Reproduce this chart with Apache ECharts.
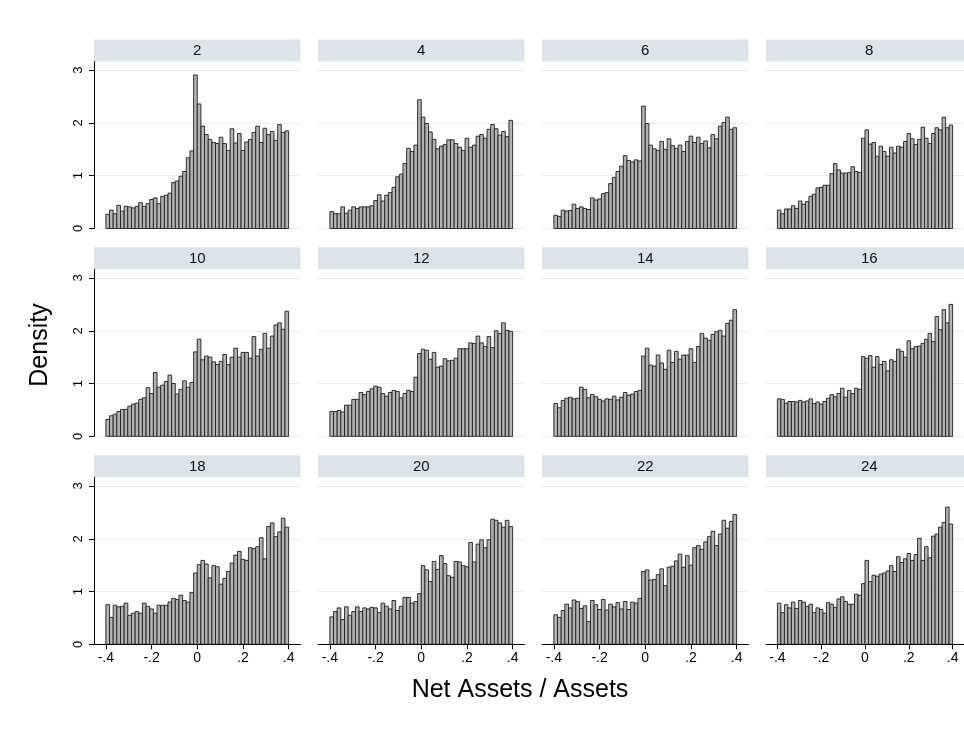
<!DOCTYPE html>
<html><head><meta charset="utf-8">
<script src="https://cdn.jsdelivr.net/npm/echarts@6/dist/echarts.min.js"></script>
<style>html,body{margin:0;padding:0;background:#fff}#c{width:964px;height:734px}</style>
</head><body><div id="c"></div>
<script>
const panelTitles = ['2','4','6','8','10','12','14','16','18','20','22','24'];
const BIN_START = -0.4, BIN_WIDTH = 0.016;
const d2 = [0.27,0.35,0.28,0.44,0.33,0.42,0.41,0.39,0.42,0.49,0.42,0.47,0.55,0.58,0.47,0.61,0.63,0.67,0.87,0.90,0.99,1.08,1.34,1.47,2.91,2.36,1.94,1.78,1.69,1.63,1.61,1.73,1.61,1.48,1.89,1.62,1.80,1.48,1.64,1.69,1.82,1.94,1.63,1.90,1.78,1.84,1.67,1.97,1.82,1.85];
const d4 = [0.32,0.28,0.28,0.41,0.29,0.35,0.41,0.38,0.41,0.41,0.41,0.43,0.53,0.64,0.52,0.63,0.68,0.78,0.98,1.03,1.23,1.52,1.46,1.58,2.44,2.11,1.99,1.83,1.69,1.51,1.56,1.59,1.68,1.68,1.61,1.54,1.48,1.71,1.54,1.58,1.75,1.78,1.71,1.88,1.97,1.89,1.77,1.84,1.74,2.05];
const d6 = [0.25,0.23,0.35,0.33,0.34,0.46,0.38,0.41,0.38,0.36,0.58,0.54,0.56,0.66,0.68,0.85,0.97,1.08,1.18,1.38,1.29,1.26,1.30,1.28,2.32,1.99,1.58,1.51,1.48,1.65,1.50,1.70,1.57,1.52,1.58,1.46,1.65,1.75,1.63,1.73,1.61,1.66,1.53,1.78,1.70,1.94,2.01,2.11,1.88,1.91];
const d8 = [0.35,0.28,0.37,0.37,0.43,0.38,0.52,0.46,0.51,0.61,0.65,0.77,0.78,0.82,0.82,1.04,1.23,1.11,1.05,1.05,1.06,1.17,1.08,1.06,1.71,1.87,1.60,1.63,1.37,1.56,1.46,1.37,1.54,1.43,1.56,1.54,1.65,1.80,1.70,1.59,1.69,1.92,1.71,1.61,1.80,1.91,1.87,2.11,1.91,1.96];
const d10 = [0.32,0.39,0.42,0.47,0.51,0.51,0.57,0.61,0.63,0.70,0.73,0.92,0.81,1.21,0.93,0.97,1.04,1.16,1.00,0.80,0.89,1.05,0.93,1.02,1.60,1.84,1.45,1.52,1.50,1.41,1.36,1.42,1.55,1.36,1.50,1.67,1.50,1.59,1.59,1.48,1.89,1.52,1.65,1.95,1.67,1.90,2.11,2.15,2.03,2.37];
const d12 = [0.47,0.47,0.49,0.46,0.59,0.59,0.70,0.70,0.83,0.79,0.85,0.90,0.95,0.93,0.81,0.76,0.83,0.87,0.85,0.73,0.81,0.87,0.85,1.12,1.57,1.65,1.63,1.46,1.59,1.31,1.33,1.47,1.43,1.44,1.48,1.66,1.66,1.66,1.77,1.76,1.90,1.77,1.70,1.89,1.68,2.00,1.95,2.15,2.01,1.99];
const d14 = [0.62,0.54,0.68,0.72,0.74,0.71,0.72,0.93,0.89,0.73,0.79,0.75,0.70,0.67,0.71,0.70,0.76,0.69,0.74,0.83,0.78,0.80,0.85,0.87,1.52,1.67,1.35,1.33,1.54,1.39,1.27,1.63,1.40,1.61,1.46,1.54,1.54,1.66,1.40,1.70,1.95,1.86,1.82,1.93,1.98,2.01,1.90,2.14,2.20,2.40];
const d16 = [0.71,0.70,0.63,0.66,0.66,0.65,0.68,0.65,0.67,0.71,0.62,0.65,0.61,0.66,0.72,0.79,0.75,0.81,0.91,0.74,0.87,0.81,0.91,0.89,1.51,1.48,1.53,1.31,1.51,1.36,1.42,1.24,1.45,1.42,1.65,1.61,1.50,1.81,1.66,1.70,1.71,1.76,1.84,1.95,1.80,2.27,2.02,2.40,2.15,2.50];
const d18 = [0.75,0.51,0.74,0.71,0.72,0.78,0.55,0.59,0.62,0.59,0.78,0.72,0.67,0.59,0.74,0.74,0.74,0.80,0.87,0.85,0.93,0.83,0.80,0.98,1.35,1.51,1.59,1.52,1.26,1.49,1.47,1.14,1.25,1.38,1.54,1.69,1.76,1.61,1.59,1.83,1.81,1.85,2.02,1.62,2.23,2.30,2.04,2.13,2.39,2.22];
const d20 = [0.52,0.62,0.69,0.47,0.71,0.55,0.62,0.71,0.62,0.69,0.67,0.70,0.69,0.60,0.78,0.72,0.67,0.83,0.64,0.72,0.89,0.89,0.78,0.81,0.96,1.49,1.41,1.19,1.57,1.42,1.68,1.53,1.30,1.27,1.57,1.56,1.49,1.47,1.93,1.56,1.90,1.98,1.83,1.98,2.37,2.35,2.30,2.22,2.35,2.23];
const d22 = [0.56,0.51,0.64,0.76,0.69,0.84,0.81,0.68,0.73,0.43,0.83,0.75,0.66,0.85,0.65,0.76,0.71,0.79,0.67,0.81,0.66,0.80,0.78,0.87,1.38,1.41,1.22,1.23,1.32,1.43,1.11,1.46,1.48,1.58,1.71,1.46,1.68,1.50,1.83,1.87,1.80,1.94,2.04,2.14,1.87,2.09,2.35,2.20,2.33,2.46];
const d24 = [0.78,0.60,0.75,0.69,0.80,0.68,0.83,0.80,0.72,0.76,0.60,0.69,0.66,0.59,0.79,0.76,0.70,0.86,0.90,0.81,0.76,0.76,0.95,0.93,1.15,1.59,1.19,1.31,1.29,1.33,1.35,1.39,1.49,1.38,1.66,1.55,1.62,1.72,1.59,1.70,2.01,1.59,1.85,1.64,2.05,2.09,2.22,2.31,2.60,2.28];
const panelData = [d2,d4,d6,d8,d10,d12,d14,d16,d18,d20,d22,d24];
const xTickValues = [-0.4,-0.2,0,0.2,0.4];
const xTickLabels = ['-.4','-.2','0','.2','.4'];
const yTickValues = [0,1,2,3];

const FONT = "'Liberation Sans', Arial, sans-serif";
const colLefts = [94, 318, 542, 766];
const rowTops = [61.5, 269.3, 477.3];
const PW = 206.5, PH = 167, HEADER_H = 22;
const XMIN = -0.452, XMAX = 0.452, YMAX = 3.165;

const grids = [], xAxes = [], yAxes = [], series = [], graphics = [];
panelTitles.forEach((t, i) => {
  const r = Math.floor(i / 4), c = i % 4;
  const left = colLefts[c], top = rowTops[r];
  grids.push({left: left, top: top, width: PW, height: PH, containLabel: false});
  const bottomRow = r === 2, firstCol = c === 0;
  xAxes.push({
    type: 'value', gridIndex: i, min: XMIN, max: XMAX, z: 5,
    splitLine: {show: false},
    axisLine: {show: bottomRow, onZero: false, lineStyle: {color: '#000', width: 1}},
    axisTick: {show: bottomRow, customValues: xTickValues, length: 5, lineStyle: {color: '#000'}},
    axisLabel: {show: bottomRow, customValues: xTickValues, margin: 7, fontSize: 14, color: '#000', fontFamily: FONT,
      formatter: v => xTickLabels[xTickValues.findIndex(x => Math.abs(x - v) < 1e-9)] ?? ''}
  });
  yAxes.push({
    type: 'value', gridIndex: i, min: 0, max: YMAX, z: 5,
    splitLine: {show: false},
    axisLine: {show: firstCol, onZero: false, lineStyle: {color: '#000', width: 1}},
    axisTick: {show: firstCol, customValues: yTickValues, length: 5, lineStyle: {color: '#000'}},
    axisLabel: {show: firstCol, customValues: yTickValues, rotate: 90, margin: 9, fontSize: 13, color: '#000', fontFamily: FONT}
  });
  // gridlines
  series.push({
    type: 'line', xAxisIndex: i, yAxisIndex: i, data: [], z: 1, silent: true,
    markLine: {silent: true, z: 1, symbol: 'none', animation: false, label: {show: false},
      lineStyle: {color: '#e3edf0', width: 1, type: 'solid'},
      data: yTickValues.map(v => ({yAxis: v}))}
  });
  const data = panelData[i].map((v, k) => [BIN_START + k * BIN_WIDTH, BIN_START + (k + 1) * BIN_WIDTH, v]);
  series.push({
    type: 'custom', xAxisIndex: i, yAxisIndex: i, z: 3, silent: true, animation: false,
    data: data,
    renderItem: function (params, api) {
      const p0 = api.coord([api.value(0), api.value(2)]);
      const p1 = api.coord([api.value(1), 0]);
      return {type: 'rect', shape: {x: p0[0], y: p0[1], width: p1[0] - p0[0], height: p1[1] - p0[1]},
        style: {fill: '#b3b3b3', stroke: '#1e1e1e', lineWidth: 0.9}};
    }
  });
  graphics.push({type: 'rect', left: left, top: top - HEADER_H, shape: {width: PW, height: HEADER_H},
    style: {fill: '#d9e5eb'}, silent: true});
  graphics.push({type: 'text', x: left + PW / 2, y: top - HEADER_H / 2 + 0.5,
    style: {text: t, font: '15px ' + FONT, fill: '#111', textAlign: 'center', textVerticalAlign: 'middle'}, silent: true});
});
graphics.push({type: 'text', x: 40, y: 345, rotation: Math.PI / 2,
  style: {text: 'Density', font: '25px ' + FONT, fill: '#000', textAlign: 'center', textVerticalAlign: 'middle'}});
graphics.push({type: 'text', x: 520, y: 690,
  style: {text: 'Net Assets / Assets', font: '25px ' + FONT, fill: '#000', textAlign: 'center', textVerticalAlign: 'middle'}});

const chart = echarts.init(document.getElementById('c'), null, {renderer: 'canvas'});
chart.setOption({
  backgroundColor: '#fff', animation: false,
  grid: grids, xAxis: xAxes, yAxis: yAxes, series: series, graphic: graphics
});
</script></body></html>
